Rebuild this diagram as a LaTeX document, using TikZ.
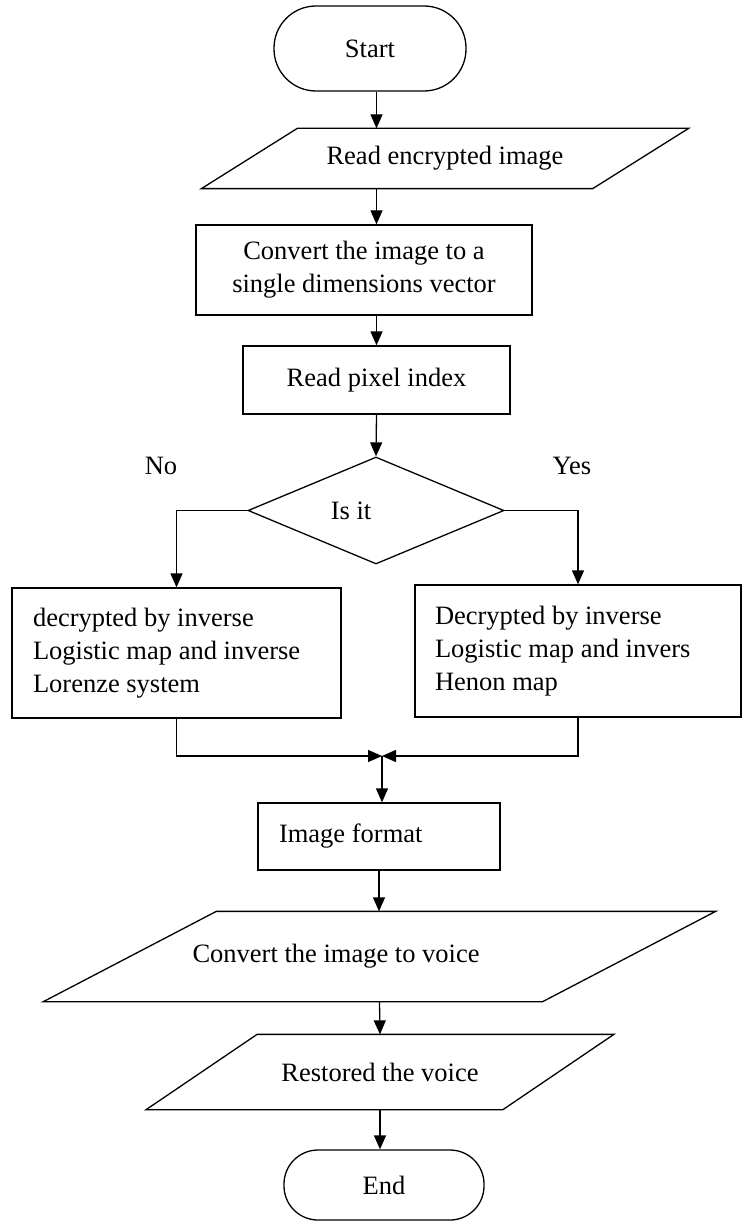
\documentclass[tikz,border=0pt]{standalone}
\usepackage{fontspec}
\setmainfont{Liberation Serif}
\usetikzlibrary{shapes.geometric,arrows.meta}

% outline of an input/output box round a plain node
\newcommand{\slantbox}[2]{%
  \draw ([xshift=#2]#1.north west) -- ([xshift=#2]#1.north east)
    -- ([xshift=-#2]#1.south east) -- ([xshift=-#2]#1.south west) -- cycle;}

\begin{document}
\begin{tikzpicture}[x=1pt,y=-1pt,line width=1.3pt,
    >={Triangle[length=14pt,width=12pt]}]

        \useasboundingbox (0,0) rectangle (743,1222);

        \begin{scope}[every node/.style={draw, inner sep=0pt, font=\fontsize{26.5}{33}\selectfont}]
          \node (1)  [minimum width=192pt, minimum height=85pt, rounded corners=42pt] at (370,48.5) {Start};
          \node (3)  [minimum width=336pt, minimum height=90pt, align=center] at (364,270) {Convert the image to a\\single dimensions vector};
          \node (4)  [minimum width=267pt, minimum height=68pt] at (376.5,380) {Read pixel index};
          \node (5)  [diamond, aspect=2.4, minimum width=256pt, minimum height=107pt] at (376,510.5) {Is it\hspace*{50pt}};
          \node (6)  [text width=287pt, inner xsep=21pt, minimum height=130pt, align=flush left] at (176.5,653) {decrypted by inverse\\Logistic map and inverse\\Lorenze system};
          \node (7)  [text width=286pt, inner xsep=20pt, minimum height=132pt, align=flush left] at (578,651) {Decrypted by inverse\\Logistic map and invers\\Henon map};
          \node (8)  [text width=200pt, inner xsep=21pt, minimum height=67pt, align=flush left] at (379,836.5) {Image format};
          \node (11) [minimum width=200pt, minimum height=70pt, rounded corners=34pt] at (384,1185) {End};
        \end{scope}

        \begin{scope}[every node/.style={inner sep=0pt, font=\fontsize{26.5}{33}\selectfont}]
          \node (2)  [minimum width=390pt, minimum height=59pt] at (445,158.5) {Read encrypted image};
          \node (9)  [minimum width=498pt, minimum height=89pt, text width=374pt, inner xsep=62pt, align=flush left] at (379.5,956.5) {Convert the image to voice};
          \node (10) [minimum width=355.5pt, minimum height=74pt] at (380,1072) {Restored the voice};
          \node (no)  at (161,466) {No};
          \node (yes) at (572,466) {Yes};
        \end{scope}

        \slantbox{2}{48pt}
        \slantbox{9}{86.5pt}
        \slantbox{10}{55.5pt}

        \coordinate (j) at (382,756);

        \draw[->] (4 |- 1.south) -- (4 |- 2.north);
        \draw[->] (4 |- 2.south) -- (4 |- 3.north);
        \draw[->] (4 |- 3.south) -- (4.north);
        \draw[->] (4.south) -- (5.north);
        \draw[->] (5.west) -| (6.north);
        \draw[->] (5.east) -| (7.north);
        \draw[->] (6.south) |- (j);
        \draw[->] (7.south) |- (j);
        \draw[->] (j) -- (j |- 8.north);
        \draw[->] (8.south) -- (8.south |- 9.north);
        \draw[->] (9.south) -- (10.north);
        \draw[->] (10.south) -- (10.south |- 11.north);

      \end{tikzpicture}
\end{document}
